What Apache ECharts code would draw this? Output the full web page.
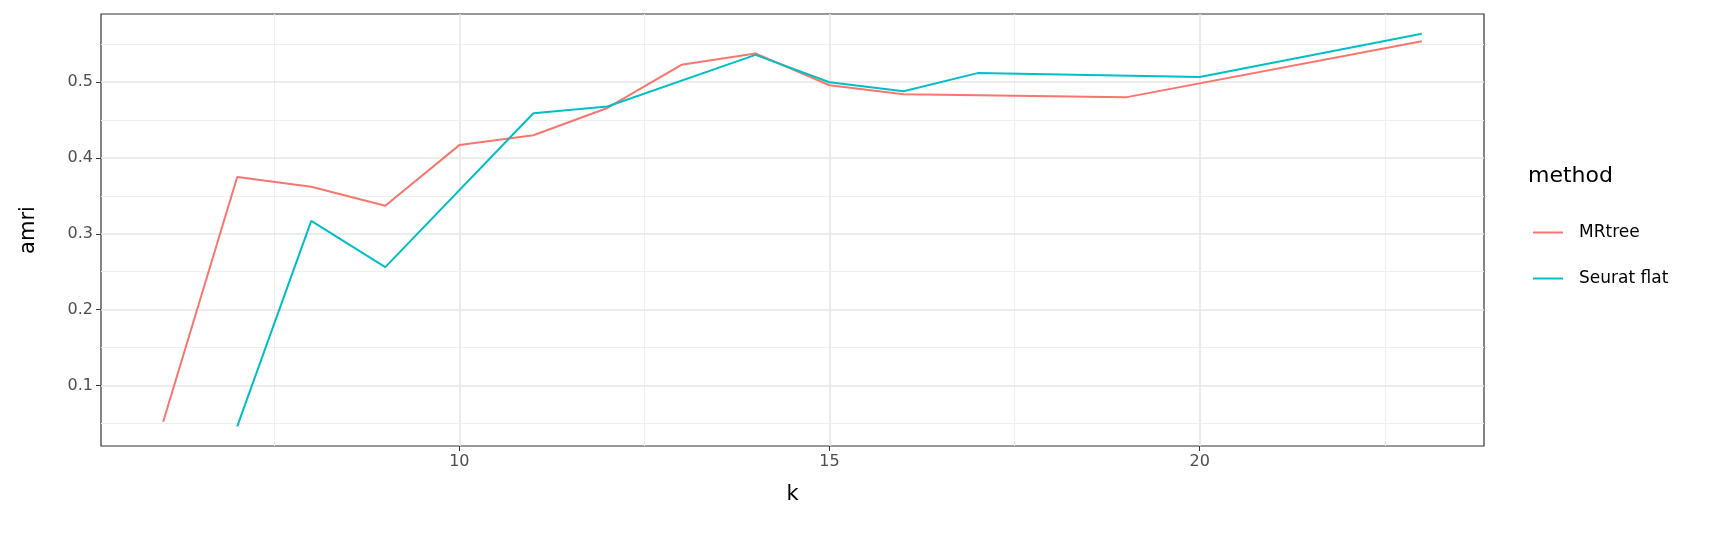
<!DOCTYPE html>
<html>
<head>
<meta charset="utf-8">
<script src="https://cdn.jsdelivr.net/npm/echarts@6/dist/echarts.min.js"></script>
<style>html,body{margin:0;padding:0;background:#fff}#chart{width:1728px;height:533px}</style>
</head>
<body>
<div id="chart"></div>
<script>
// data
const mrtreeK = [6, 7, 8, 9, 10, 11, 12, 13, 14, 15, 16, 19, 23];
const mrtreeAmri = [0.052, 0.375, 0.362, 0.337, 0.417, 0.430, 0.466, 0.523, 0.538, 0.496, 0.484, 0.480, 0.554];
const seuratK = [7, 8, 9, 11, 12, 14, 15, 16, 17, 20, 23];
const seuratAmri = [0.046, 0.317, 0.256, 0.459, 0.468, 0.536, 0.500, 0.488, 0.512, 0.507, 0.564];
const xTicks = [10, 15, 20];
const xMinor = [7.5, 12.5, 17.5, 22.5];
const yTicks = [0.1, 0.2, 0.3, 0.4, 0.5];
const yMinor = [0.05, 0.15, 0.25, 0.35, 0.45, 0.55];

const gridLines = [];
xTicks.forEach(v => gridLines.push({ xAxis: v, lineStyle: { color: '#e6e6e6', width: 1.6, type: 'solid' } }));
xMinor.forEach(v => gridLines.push({ xAxis: v, lineStyle: { color: '#efefef', width: 1, type: 'solid' } }));
yTicks.forEach(v => gridLines.push({ yAxis: v, lineStyle: { color: '#e6e6e6', width: 1.6, type: 'solid' } }));
yMinor.forEach(v => gridLines.push({ yAxis: v, lineStyle: { color: '#efefef', width: 1, type: 'solid' } }));

const pair = (xs, ys) => xs.map((x, i) => [x, ys[i]]);
const lineIcon = 'path://M0,0 L30,0 L30,2 L0,2 Z';

const chart = echarts.init(document.getElementById('chart'));
chart.setOption({
    animation: false,
    textStyle: { fontFamily: 'DejaVu Sans' },
    grid: { left: 101, right: 244, top: 14, bottom: 87, show: true, borderColor: '#333', borderWidth: 1.2, backgroundColor: '#fff' },
    xAxis: {
        type: 'value', min: 5.16, max: 23.84,
        name: 'k', nameLocation: 'middle', nameGap: 38,
        nameTextStyle: { fontSize: 21, color: '#000' },
        axisLine: { show: false },
        splitLine: { show: false },
        axisTick: { show: true, length: 5, customValues: xTicks, lineStyle: { color: '#333' } },
        axisLabel: { customValues: xTicks, fontSize: 16, color: '#4d4d4d', margin: 8 }
    },
    yAxis: {
        type: 'value', min: 0.02, max: 0.59,
        name: 'amri', nameLocation: 'middle', nameGap: 62, nameRotate: 90,
        nameTextStyle: { fontSize: 21, color: '#000' },
        axisLine: { show: false },
        splitLine: { show: false },
        axisTick: { show: true, length: 5, customValues: yTicks, lineStyle: { color: '#333' } },
        axisLabel: { customValues: yTicks, fontSize: 16, color: '#4d4d4d', margin: 8 }
    },
    legend: {
        orient: 'vertical', left: 1528, top: 219, itemGap: 29,
        itemWidth: 36, itemHeight: 2, icon: lineIcon,
        textStyle: { fontSize: 17, color: '#000', padding: [0, 0, 0, 8] },
        data: ['MRtree', 'Seurat flat']
    },
    graphic: [{ type: 'text', left: 1528, top: 165, style: { text: 'method', fontSize: 22, fill: '#000', fontFamily: 'DejaVu Sans' } }],
    series: [
        { type: 'line', name: 'grid', data: [], silent: true, z: 1,
          markLine: { silent: true, symbol: 'none', label: { show: false }, data: gridLines } },
        { type: 'line', name: 'MRtree', data: pair(mrtreeK, mrtreeAmri), showSymbol: false, z: 5,
          itemStyle: { color: '#F8766D' }, lineStyle: { color: '#F8766D', width: 2 } },
        { type: 'line', name: 'Seurat flat', data: pair(seuratK, seuratAmri), showSymbol: false, z: 5,
          itemStyle: { color: '#00BFC4' }, lineStyle: { color: '#00BFC4', width: 2 } }
    ]
});
</script>
</body>
</html>
